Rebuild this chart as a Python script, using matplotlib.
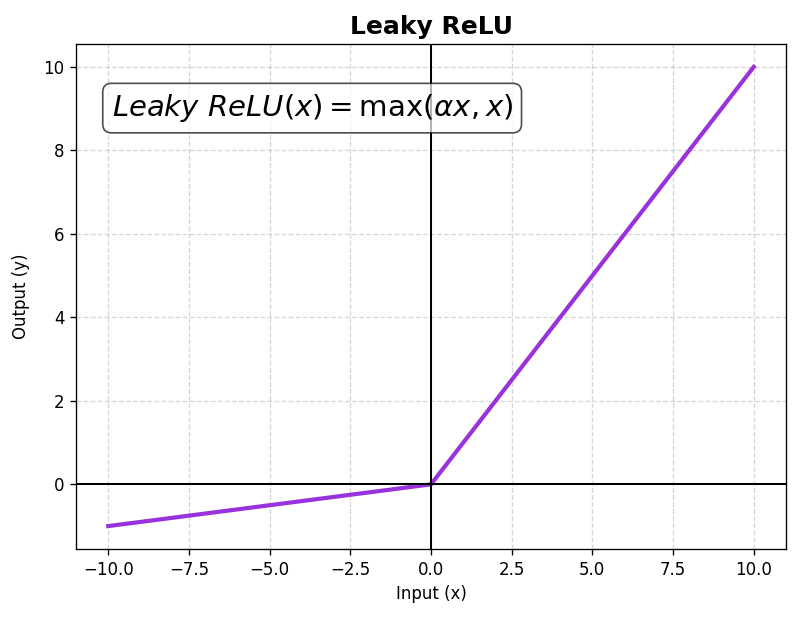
import matplotlib
matplotlib.use("Agg")
import matplotlib.pyplot as plt

# breakpoints of the leaky relu curve (alpha = 0.1)
x_vals = [-10.0, 0.0, 10.0]
y_vals = [-1.0, 0.0, 10.0]

fig = plt.figure(figsize=(800 / 120, 619 / 120), dpi=120)
ax = fig.add_axes([0.095, 0.113, 0.8875, 0.816])

ax.plot(x_vals, y_vals, color="#9932DC", linewidth=2.5)
ax.axhline(0, color="black", linewidth=1.2)
ax.axvline(0, color="black", linewidth=1.2)
ax.grid(True, linestyle="--", alpha=0.5)

ax.set_title("Leaky ReLU", fontsize=15, fontweight="bold")
ax.set_xlabel("Input (x)")
ax.set_ylabel("Output (y)", labelpad=8)
ax.set_xlim(-11, 11)
ax.set_ylim(-1.55, 10.55)

ax.text(0.05, 0.873, r"$Leaky\ ReLU(x) = \max(\alpha x, x)$", transform=ax.transAxes,
        fontsize=17.5, va="center",
        bbox=dict(boxstyle="round,pad=0.3", facecolor="white", edgecolor="black", alpha=0.7))

fig.savefig("out.png", dpi=120)
